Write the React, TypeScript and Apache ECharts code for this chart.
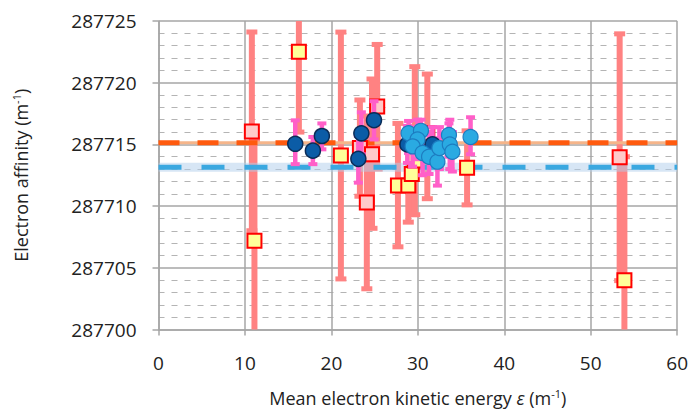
import React, { useEffect, useRef } from "react";
import * as echarts from "echarts";

// ---- tick labels ----
const xTicks = [0, 10, 20, 30, 40, 50, 60];
const yTicks = [287700, 287705, 287710, 287715, 287720, 287725];

// ---- reference lines (electron affinity) ----
const orangeLevel = 287715.13;
const blueLevel = 287713.14;

// ---- data: [x, y, errLow, errHigh] ----
const pinkSquares = [
  [10.8, 287716.05, 287708.0, 287724.1],
  [23.3, 287714.7, 287710.8, 287718.6],
  [24.1, 287710.3, 287703.3, 287717.3],
  [24.7, 287714.2, 287708.2, 287720.3],
  [25.3, 287718.07, 287713.0, 287723.1],
  [31.1, 287715.9, 287710.6, 287720.7],
  [53.35, 287713.96, 287703.96, 287723.96],
];

const yellowSquares = [
  [11.1, 287707.2, 287699.0, 287715.4],
  [16.24, 287722.5, 287716.0, 287729.0],
  [21.1, 287714.1, 287704.1, 287724.1],
  [27.7, 287711.66, 287706.7, 287716.7],
  [28.9, 287711.66, 287708.7, 287714.7],
  [29.3, 287712.6, 287709.6, 287715.6],
  [29.65, 287713.7, 287709.3, 287721.3],
  [35.7, 287713.1, 287710.1, 287716.1],
  [53.9, 287704.0, 287694.0, 287714.0],
];

const darkCircles = [
  [15.82, 287715.05, 287713.4, 287716.95],
  [17.86, 287714.49, 287713.4, 287715.6],
  [18.9, 287715.68, 287714.6, 287716.7],
  [23.12, 287713.83, 287711.9, 287715.7],
  [23.47, 287715.9, 287714.2, 287717.6],
  [24.93, 287716.96, 287715.4, 287718.5],
  [28.8, 287715.0, 287713.5, 287716.5],
  [31.7, 287715.0, 287713.6, 287716.4],
];

const lightCircles = [
  [28.93, 287715.9, 287714.3, 287716.9],
  [30.36, 287716.1, 287714.5, 287717.0],
  [29.97, 287715.4, 287713.8, 287717.0],
  [29.4, 287714.84, 287713.2, 287716.4],
  [30.55, 287714.3, 287712.5, 287716.0],
  [31.3, 287714.0, 287712.6, 287716.0],
  [32.27, 287713.6, 287711.66, 287715.5],
  [32.5, 287714.7, 287713.0, 287716.4],
  [33.6, 287715.76, 287714.0, 287716.7],
  [33.7, 287715.0, 287713.0, 287717.0],
  [34.0, 287714.4, 287712.8, 287716.0],
  [36.1, 287715.6, 287714.2, 287717.2],
];

const FONT = "Open Sans";
const RED_BAR = "#ff8282";
const MAG_BAR = "#ff5fc8";

function errRender(color: string, w: number, capW: number, capH: number) {
  return (params: any, api: any) => {
    const x = api.value(0);
    const lo = api.value(2);
    const hi = api.value(3);
    const pLo = api.coord([x, lo]);
    const pHi = api.coord([x, hi]);
    const cs = params.coordSys;
    const top = Math.max(pHi[1], cs.y);
    const bot = Math.min(pLo[1], cs.y + cs.height);
    const children: any[] = [
      {
        type: "rect",
        shape: { x: pLo[0] - w / 2, y: top, width: w, height: Math.max(0, bot - top) },
        style: { fill: color },
      },
    ];
    if (pHi[1] >= cs.y - 0.5) {
      children.push({
        type: "rect",
        shape: { x: pHi[0] - capW / 2, y: pHi[1] - capH / 2, width: capW, height: capH },
        style: { fill: color },
      });
    }
    if (pLo[1] <= cs.y + cs.height + 0.5) {
      children.push({
        type: "rect",
        shape: { x: pLo[0] - capW / 2, y: pLo[1] - capH / 2, width: capW, height: capH },
        style: { fill: color },
      });
    }
    return { type: "group", children };
  };
}

function errSeries(name: string, data: number[][], color: string, w: number, capW: number, capH: number, z: number) {
  return {
    name,
    type: "custom",
    renderItem: errRender(color, w, capW, capH),
    data: data.map((d) => [d[0], d[1], d[2], d[3]]),
    encode: { x: 0, y: 1 },
    z,
    silent: true,
  };
}

function scatterSeries(name: string, data: number[][], symbol: string, size: number, fill: string, border: string, bw: number, z: number) {
  return {
    name,
    type: "scatter",
    data: data.map((d) => [d[0], d[1]]),
    symbol,
    symbolSize: size,
    itemStyle: { color: fill, borderColor: border, borderWidth: bw, opacity: 1 },
    z,
    silent: true,
  };
}

function levelSeries(name: string, level: number, color: string, width: number, type: any, z: number) {
  return {
    name,
    type: "line",
    data: [
      [xTicks[0], level],
      [xTicks[xTicks.length - 1], level],
    ],
    showSymbol: false,
    lineStyle: { color, width, type, cap: "butt" },
    z,
    silent: true,
  };
}

export default function App() {
  const ref = useRef<HTMLDivElement>(null);
  useEffect(() => {
    if (!ref.current) return;
    const chart = echarts.init(ref.current, undefined, { renderer: "svg" });
    chart.setOption({
      animation: false,
      backgroundColor: "#ffffff",
      grid: { left: 158.5, right: 12.5, top: 21, bottom: 77, containLabel: false },
      xAxis: {
        type: "value",
        min: xTicks[0],
        max: xTicks[xTicks.length - 1],
        interval: 10,
        name: "Mean electron kinetic energy {it|ε} (m{sup|-1})",
        nameLocation: "middle",
        nameGap: 58,
        nameTextStyle: {
          fontFamily: FONT,
          fontSize: 18,
          color: "#222",
          rich: {
            it: { fontFamily: FONT, fontSize: 18, fontStyle: "italic", color: "#222" },
            sup: { fontFamily: FONT, fontSize: 11, color: "#222", verticalAlign: "top", padding: [0, 0, 10, 0] },
          },
        },
        axisLine: { show: true, lineStyle: { color: "#a6a6a6", width: 1.5 } },
        axisTick: { show: true, inside: false, length: 6, lineStyle: { color: "#a6a6a6", width: 1.5 } },
        axisLabel: { fontFamily: FONT, fontSize: 19, color: "#222", margin: 24, formatter: (v: number) => String(v) },
        splitLine: { show: true, lineStyle: { color: "#a6a6a6", width: 1.5 } },
      },
      yAxis: {
        type: "value",
        min: yTicks[0],
        max: yTicks[yTicks.length - 1],
        interval: 5,
        name: "Electron affinity (m{sup|-1})",
        nameLocation: "middle",
        nameGap: 127,
        nameTextStyle: {
          fontFamily: FONT,
          fontSize: 18,
          color: "#222",
          rich: {
            sup: { fontFamily: FONT, fontSize: 11, color: "#222", verticalAlign: "top", padding: [0, 0, 10, 0] },
          },
        },
        axisLine: { show: true, lineStyle: { color: "#a6a6a6", width: 1.5 } },
        axisTick: { show: true, inside: false, length: 6, lineStyle: { color: "#a6a6a6", width: 1.5 } },
        axisLabel: { fontFamily: FONT, fontSize: 19, color: "#222", margin: 22, formatter: (v: number) => String(v) },
        splitLine: { show: true, lineStyle: { color: "#a6a6a6", width: 1.5 } },
        minorTick: { show: false, splitNumber: 5 },
        minorSplitLine: { show: true, lineStyle: { color: "#b4b4b4", width: 1.2, type: [6, 7] } },
      },
      series: [
        errSeries("pinkErr", pinkSquares, RED_BAR, 6, 11, 5, 2),
        errSeries("yellowErr", yellowSquares, RED_BAR, 6, 11, 5, 2),
        levelSeries("orangeBase", orangeLevel, "#f5b58a", 3, "solid", 3),
        levelSeries("orangeDash", orangeLevel, "#ff5a0e", 5, [21, 18], 3),
        levelSeries("blueBand", blueLevel, "rgba(175,205,235,0.5)", 9, "solid", 3),
        levelSeries("blueDash", blueLevel, "#3aa8e0", 5, [23, 20], 3),
        scatterSeries("pink", pinkSquares, "rect", 14, "#ffc9c9", "#ff0000", 2, 4),
        scatterSeries("yellow", yellowSquares, "rect", 14, "#ffff99", "#ff0000", 2, 4),
        errSeries("darkErr", darkCircles, MAG_BAR, 4.5, 9, 4, 5),
        errSeries("lightErr", lightCircles, MAG_BAR, 4.5, 9, 4, 5),
        scatterSeries("dark", darkCircles, "circle", 15, "#0b5ca6", "#0a2c57", 1.5, 6),
        scatterSeries("light", lightCircles, "circle", 15, "#2aaae2", "#1d7cc0", 1.2, 6),
      ],
    });
    return () => chart.dispose();
  }, []);
  return (
    <div
      ref={ref}
      style={{ position: "fixed", left: 0, top: 0, width: 691, height: 412 }}
    />
  );
}
